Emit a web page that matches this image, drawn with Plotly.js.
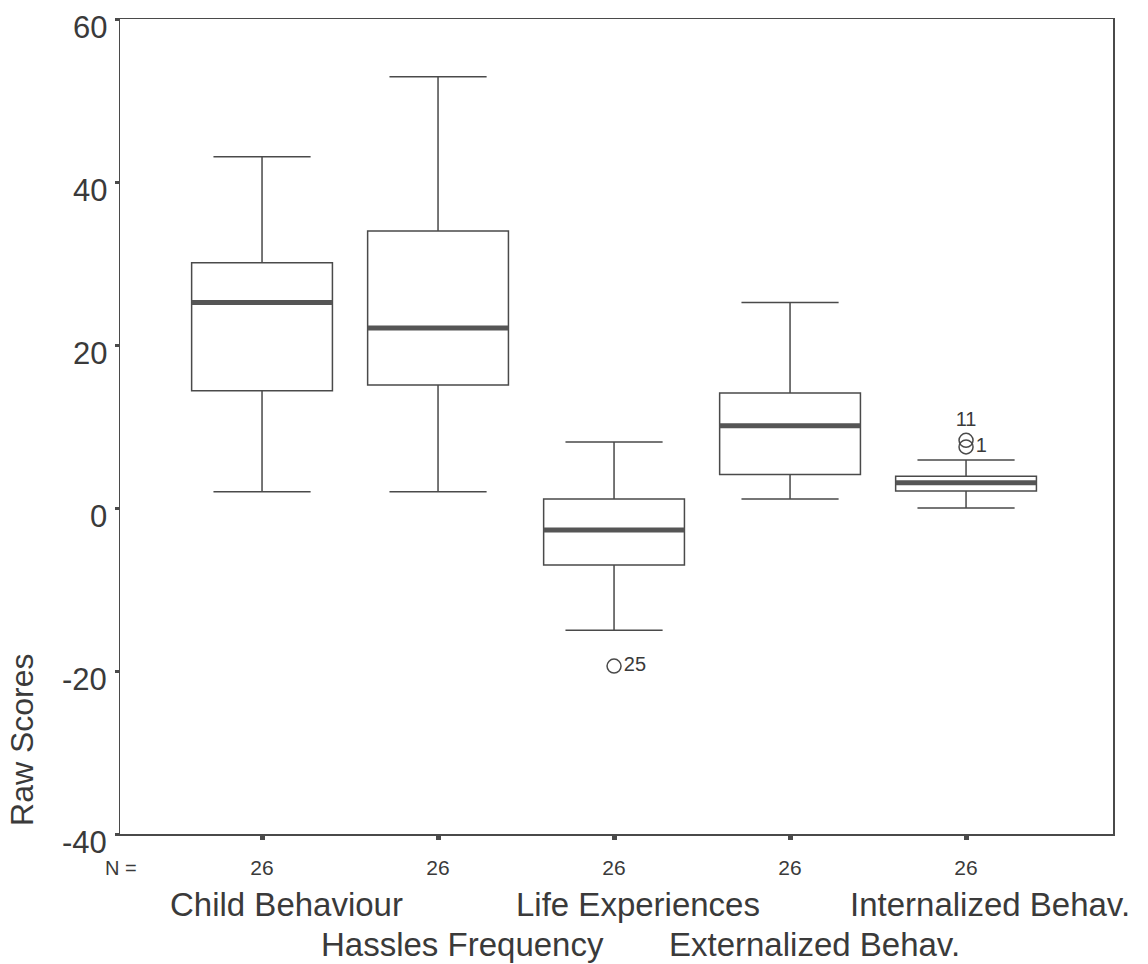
<!DOCTYPE html>
<html>
<head>
<meta charset="utf-8">
<script src="https://cdn.plot.ly/plotly-3.0.1.min.js"></script>
<style>html,body{margin:0;padding:0;background:#fff;}#chart{width:1148px;height:964px;}</style>
</head>
<body>
<div id="chart"></div>
<script>
// ---- data ----
var categories = ["Child Behaviour", "Hassles Frequency", "Life Experiences", "Externalized Behav.", "Internalized Behav."];
var nCounts = [26, 26, 26, 26, 26];
var lowerWhisker = [2.0, 2.0, -15.0, 1.1, 0.0];
var q1 = [14.4, 15.1, -7.0, 4.1, 2.1];
var median = [25.2, 22.1, -2.7, 10.1, 3.1];
var q3 = [30.1, 34.0, 1.1, 14.1, 3.9];
var upperWhisker = [43.1, 52.9, 8.1, 25.2, 5.9];
var outlierGroup = [2, 4, 4];
var outlierValue = [-19.4, 8.3, 7.5];
var outlierLabel = ["25", "11", "1"];
var yTicks = [-40, -20, 0, 20, 40, 60];
var yTickLabels = ["-40", "-20", "0", "20", "40", "60"];

// ---- styling ----
var FONT = '"Liberation Sans", Arial, Helvetica, sans-serif';
var LINE = '#4a4a4a';
var TEXT = '#3a3a3a';
var BOXW = 0.8;

var traces = [];
categories.forEach(function (c, i) {
  traces.push({
    type: 'box', x: [i], q1: [q1[i]], median: [median[i]], q3: [q3[i]],
    lowerfence: [lowerWhisker[i]], upperfence: [upperWhisker[i]],
    width: BOXW, whiskerwidth: 0.69, fillcolor: '#ffffff',
    line: {color: LINE, width: 1.5}, boxpoints: false,
    hoverinfo: 'skip', showlegend: false, name: c
  });
  traces.push({
    type: 'scatter', mode: 'lines', x: [i - BOXW / 2, i + BOXW / 2], y: [median[i], median[i]],
    line: {color: '#555555', width: 5}, hoverinfo: 'skip', showlegend: false
  });
});
traces.push({
  type: 'scatter', mode: 'markers+text',
  x: outlierGroup, y: outlierValue, text: outlierLabel,
  textposition: ['middle right', 'top center', 'middle right'],
  textfont: {family: FONT, size: 20, color: TEXT},
  marker: {symbol: 'circle-open', size: 14, color: LINE, line: {width: 1.5, color: LINE}},
  hoverinfo: 'skip', showlegend: false, cliponaxis: false
});

var annotations = [];
yTicks.forEach(function (v, k) {
  annotations.push({
    xref: 'paper', yref: 'y', x: -0.011, y: v, xanchor: 'right', yanchor: 'middle',
    yshift: -8, showarrow: false, text: yTickLabels[k],
    font: {family: FONT, size: 31, color: TEXT}
  });
});
categories.forEach(function (c, i) {
  annotations.push({
    xref: 'x', yref: 'paper', x: i, y: (i % 2 === 0) ? -0.087 : -0.135,
    xanchor: 'center', yanchor: 'middle', xshift: 24, showarrow: false,
    text: c, font: {family: FONT, size: 33, color: TEXT}
  });
});
annotations.push({
  xref: 'paper', yref: 'paper', x: 0.001, y: -0.0417, xanchor: 'center', yanchor: 'middle',
  showarrow: false, text: 'N =', font: {family: FONT, size: 20, color: TEXT}
});
annotations.push({
  xref: 'paper', yref: 'paper', x: -0.0987, y: 0.1166, xanchor: 'center', yanchor: 'middle',
  showarrow: false, text: 'Raw Scores', textangle: -90, font: {family: FONT, size: 32, color: TEXT}
});

var layout = {
  width: 1148, height: 964,
  margin: {l: 120, r: 35, t: 19, b: 130},
  paper_bgcolor: '#ffffff', plot_bgcolor: '#ffffff',
  showlegend: false,
  xaxis: {
    type: 'linear', range: [-0.807, 4.835],
    tickvals: categories.map(function (c, i) { return i; }),
    ticktext: nCounts.map(String),
    ticks: 'outside', ticklen: 4, tickwidth: 5, tickcolor: LINE,
    ticklabelstandoff: 10,
    tickfont: {family: FONT, size: 21, color: TEXT},
    showgrid: false, zeroline: false, showline: true, mirror: true,
    linecolor: LINE, linewidth: 1.5
  },
  yaxis: {
    range: [-40, 60], tickvals: yTicks, showticklabels: false,
    ticks: 'outside', ticklen: 4, tickwidth: 3, tickcolor: LINE,
    showgrid: false, zeroline: false, showline: true, mirror: true,
    linecolor: LINE, linewidth: 1.5
  },
  annotations: annotations
};

Plotly.newPlot('chart', traces, layout, {displayModeBar: false, staticPlot: true});
</script>
</body>
</html>
